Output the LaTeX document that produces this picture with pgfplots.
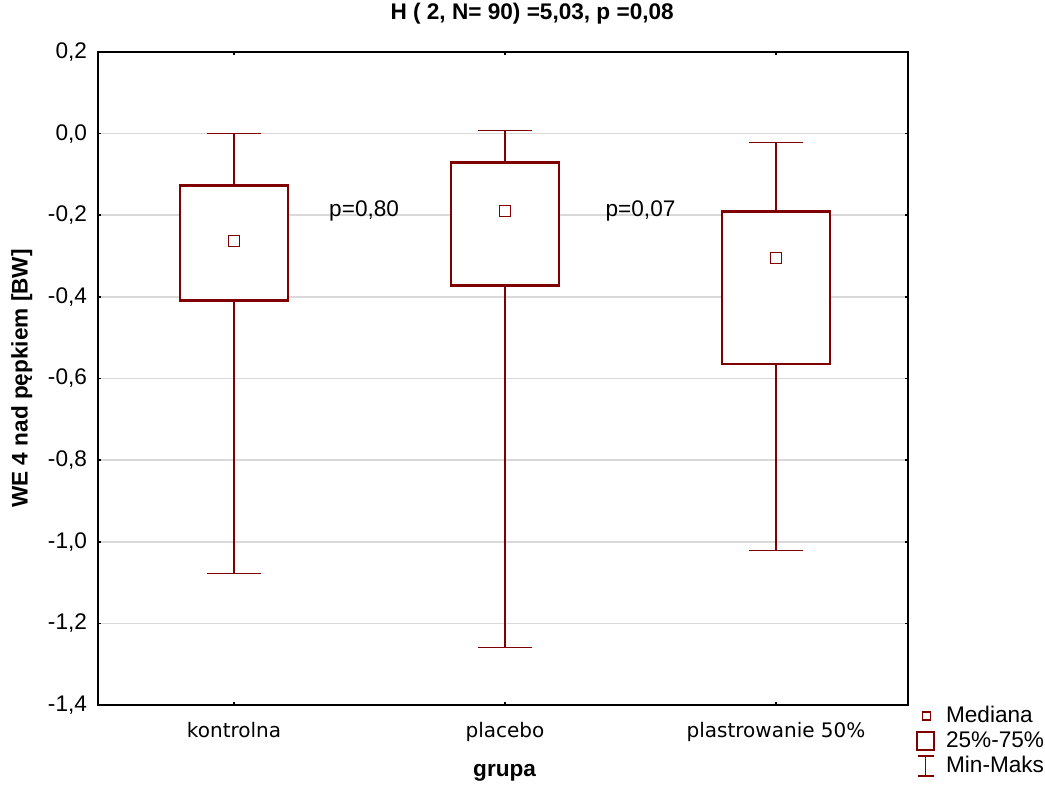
\documentclass[border=0pt]{standalone}
\usepackage{fontspec}
\setmainfont{Liberation Sans}
\newfontfamily\dejavu{DejaVu Sans}
\usepackage{pgfplots}
\pgfplotsset{compat=1.18}
\usepgfplotslibrary{statistics}
\definecolor{dred}{RGB}{128,0,0}
\definecolor{gridgray}{RGB}{217,217,217}
\begin{document}
\begin{tikzpicture}[font=\fontsize{11.3}{13.5}\selectfont]
\useasboundingbox (-49pt,-41pt) rectangle (473.5pt,352.5pt);
\begin{axis}[
  at={(0,0)}, anchor=south west,
  scale only axis, width=405pt, height=326.5pt,
  xmin=-0.502, xmax=2.487, ymin=-1.4, ymax=0.2,
  xtick={0,1,2},
  xticklabels={kontrolna, placebo, plastrowanie 50\%},
  ytick={-1.4,-1.2,-1.0,-0.8,-0.6,-0.4,-0.2,0,0.2},
  tick label style={font=\fontsize{11.3}{13.5}\selectfont},
  yticklabel style={xshift=-2pt, /pgf/number format/fixed, /pgf/number format/fixed zerofill, /pgf/number format/precision=1, /pgf/number format/use comma, /pgf/number format/assume math mode=true},
  xticklabel style={font=\dejavu\fontsize{10}{12}\selectfont, yshift=-5pt},
  tick align=inside, major tick length=1.6pt,
  tick style={black, line width=0.8pt},
  axis line style={black, line width=0.8pt},
  ymajorgrids, major grid style={gridgray, line width=0.8pt},
  clip=false,
  title={H ( 2, N= 90) =5,03, p =0,08},
  title style={at={(axis description cs:0.536,1.041)}, anchor=center, font=\bfseries\fontsize{11.3}{13.5}\selectfont},
  xlabel={grupa},
  xlabel style={at={(axis description cs:0.502,-0.104)}, anchor=center, font=\bfseries\fontsize{11.3}{13.5}\selectfont},
  ylabel={WE 4 nad pępkiem [BW]},
  ylabel style={at={(axis description cs:-0.094,0.5)}, anchor=center, font=\bfseries\fontsize{11.3}{13.5}\selectfont},
  boxplot/draw direction=y,
  boxplot/every box/.style={draw=dred, fill=white, line width=1.1pt},
  boxplot/every whisker/.style={dred, line width=0.6pt},
  boxplot/draw/median/.code={},
  boxplot/every average/.style={/tikz/mark=square, /tikz/mark size=2.8pt, dred, line width=0.9pt},
  legend cell align=left,
  legend style={at={(axis description cs:1.01,0.005)}, anchor=north west, draw=none, fill=none,
    font=\fontsize{11.3}{13.5}\selectfont, row sep=-1pt, inner sep=0pt,
    /tikz/every odd column/.append style={column sep=3.5pt}},
]
\addplot[dred, forget plot, boxplot prepared={draw position=0, median=-0.262, average=-0.262,
  upper quartile=-0.127, lower quartile=-0.409, upper whisker=0.0, lower whisker=-1.078,
  box extend=0.396, whisker extend=0.2}] coordinates {};
\addplot[dred, forget plot, boxplot prepared={draw position=1, median=-0.189, average=-0.189,
  upper quartile=-0.071, lower quartile=-0.372, upper whisker=0.007, lower whisker=-1.26,
  box extend=0.396, whisker extend=0.2}] coordinates {};
\addplot[dred, forget plot, boxplot prepared={draw position=2, median=-0.304, average=-0.304,
  upper quartile=-0.191, lower quartile=-0.564, upper whisker=-0.022, lower whisker=-1.022,
  box extend=0.396, whisker extend=0.2}] coordinates {};
\node at (axis cs:0.48,-0.19) {p=0,80};
\node at (axis cs:1.50,-0.19) {p=0,07};
\addlegendimage{legend image code/.code={\draw[dred,line width=0.7pt] (4pt,-2pt) rectangle (8pt,2pt);}}
\addlegendentry{Mediana}
\addlegendimage{legend image code/.code={\draw[dred,line width=1pt] (1.5pt,-4.5pt) rectangle (9.8pt,4.5pt);}}
\addlegendentry{25\%-75\%}
\addlegendimage{legend image code/.code={\draw[dred,line width=0.6pt] (5.7pt,-5pt) -- (5.7pt,5pt) (1.8pt,5pt) -- (9.6pt,5pt) (1.8pt,-5pt) -- (9.6pt,-5pt);}}
\addlegendentry{Min-Maks}
\end{axis}
\end{tikzpicture}
\end{document}
